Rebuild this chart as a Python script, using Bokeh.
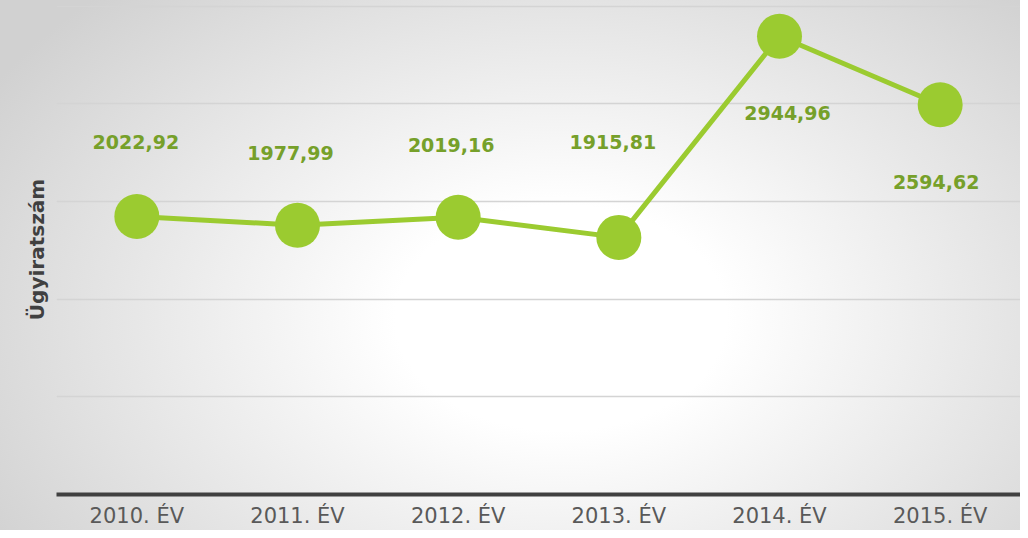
from bokeh.plotting import figure
from bokeh.models import ColumnDataSource, FixedTicker, FactorRange, Range1d
from bokeh.core.properties import value
from bokeh.embed import file_html
from bokeh.resources import INLINE

# ---- data ----
years = ["2010. ÉV", "2011. ÉV", "2012. ÉV", "2013. ÉV", "2014. ÉV", "2015. ÉV"]
counts = [2022.92, 1977.99, 2019.16, 1915.81, 2944.96, 2594.62]
count_labels = ["2022,92", "1977,99", "2019,16", "1915,81", "2944,96", "2594,62"]
grid_ticks = [1100, 1600, 2100, 2600, 3100]
y_axis_title = "Ügyiratszám"

# ---- style ----
label_dx = [-1, -7, -7, -6, 8, -4]
label_dy = [-74, -72, -72, -95, 77, 77]
LINE_GREEN = "#9BCB30"
LABEL_GREEN = "#76A02A"
FONT = "DejaVu Sans"

src = ColumnDataSource(dict(x=years, y=counts, t=count_labels, dx=label_dx, dy=label_dy))

p = figure(
    width=1020, height=530,
    x_range=FactorRange(*years), y_range=Range1d(600, 3107.7),
    output_backend="svg", toolbar_location=None,
    min_border_left=56, min_border_right=0, min_border_top=4, min_border_bottom=36,
)
p.styles = {
    "background": "radial-gradient(ellipse 65% 85% at 55% 60%, #ffffff 0%, #ffffff 25%, #d1d1d1 100%)",
}
p.background_fill_alpha = 0
p.border_fill_alpha = 0
p.outline_line_color = None

p.line("x", "y", source=src, line_color=LINE_GREEN, line_width=5)
p.scatter("x", "y", source=src, size=45, fill_color=LINE_GREEN, line_color=None)
p.text("x", "y", text="t", source=src, x_offset="dx", y_offset="dy",
       text_font=value(FONT), text_font_style="bold", text_font_size="19px",
       text_color=LABEL_GREEN, text_align="center", text_baseline="middle")

p.xgrid.grid_line_color = None
p.ygrid.ticker = FixedTicker(ticks=grid_ticks)
p.ygrid.grid_line_color = "#d4d4d4"
p.ygrid.grid_line_width = 1.5

xa = p.xaxis[0]
xa.axis_line_color = "#404040"
xa.axis_line_width = 4
xa.major_tick_line_color = None
xa.minor_tick_line_color = None
xa.major_tick_out = 0
xa.major_label_text_font = FONT
xa.major_label_text_font_size = "21px"
xa.major_label_text_color = "#595959"
xa.major_label_standoff = 9

ya = p.yaxis[0]
ya.ticker = FixedTicker(ticks=grid_ticks)
ya.axis_line_color = None
ya.major_tick_line_color = None
ya.minor_tick_line_color = None
ya.major_tick_out = 0
ya.major_label_standoff = 0
ya.major_label_text_font_size = "0px"
ya.axis_label = y_axis_title
ya.axis_label_text_font = FONT
ya.axis_label_text_font_style = "bold"
ya.axis_label_text_font_size = "20px"
ya.axis_label_text_color = "#404040"
ya.axis_label_standoff = 8

open("out.html", "w").write(file_html(p, INLINE))
